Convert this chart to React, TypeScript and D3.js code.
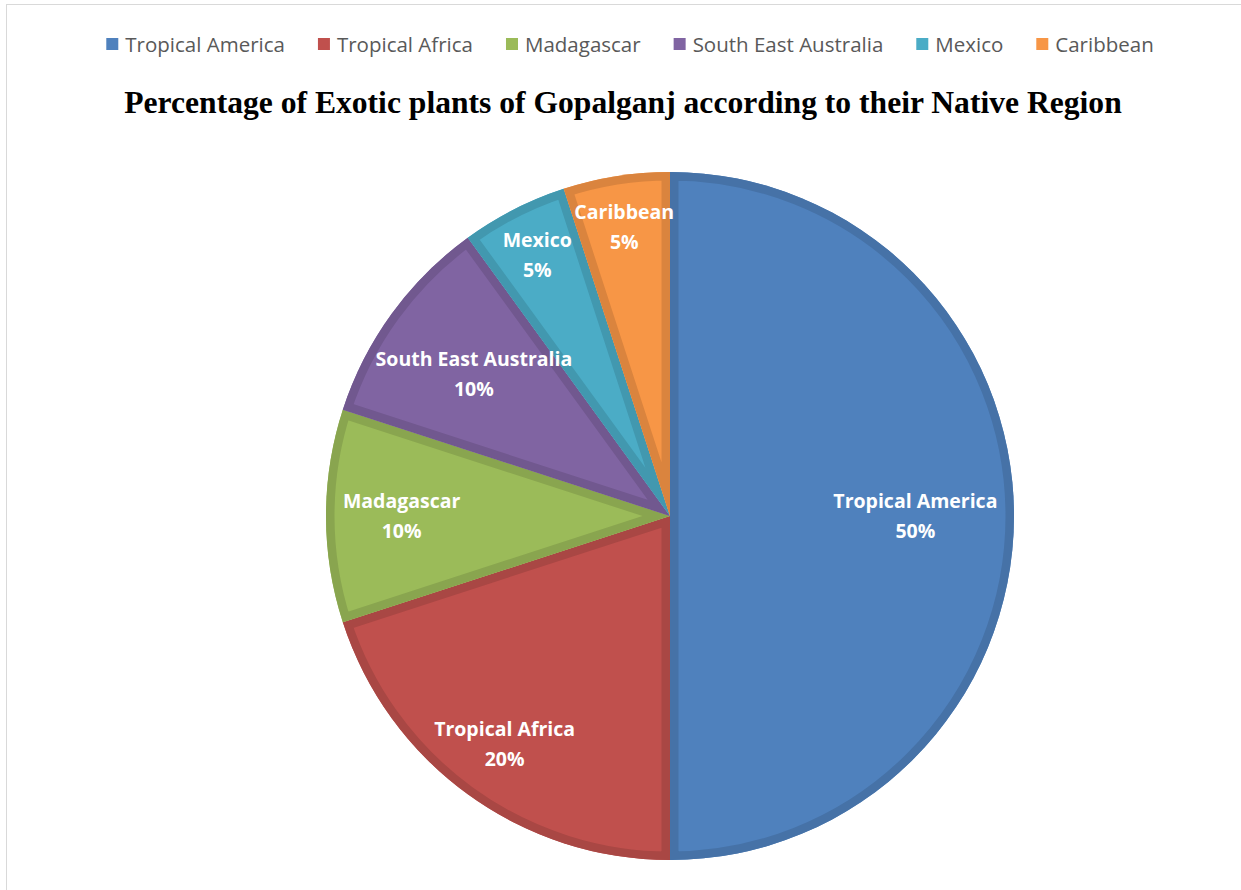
import React from 'react';
import * as d3 from 'd3';

const categories = ['Tropical America', 'Tropical Africa', 'Madagascar', 'South East Australia', 'Mexico', 'Caribbean'];
const values = [50, 20, 10, 10, 5, 5];
const colors = ['#4F81BD', '#C0504D', '#9BBB59', '#8064A2', '#4BACC6', '#F79646'];
const title = 'Percentage of Exotic plants of Gopalganj according to their Native Region';

const W = 1241;
const H = 890;
const LABEL_SIZE = 19.5;
const LEGEND_SIZE = 20.5;
const LABEL_FONT = `bold ${LABEL_SIZE}px "Open Sans"`;
const LEGEND_FONT = `${LEGEND_SIZE}px "Open Sans"`;

function measure(text: string, font: string): number {
  const c = document.createElement('canvas');
  const ctx = c.getContext('2d');
  if (!ctx) return text.length * 9;
  ctx.font = font;
  return ctx.measureText(text).width;
}

export default function App() {
  const cx = 670;
  const cy = 516;
  const R = 344;
  const total = d3.sum(values);
  const arcs = d3.pie<number>().sort(null).value((d) => d)(values);
  const arcGen = d3.arc<d3.PieArcDatum<number>>().innerRadius(0).outerRadius(R);

  const pad = 16;
  const labels = arcs.map((a, i) => {
    const mid = (a.startAngle + a.endAngle) / 2;
    const w = Math.max(measure(categories[i], LABEL_FONT), measure(`${Math.round((values[i] / total) * 100)}%`, LABEL_FONT));
    let r = 0.85 * R;
    for (; r > 0; r -= 1) {
      const x = Math.sin(mid) * r;
      const y = -Math.cos(mid) * r;
      const lim2 = (R - pad) * (R - pad) - y * y;
      if (lim2 <= 0) continue;
      const lim = Math.sqrt(lim2);
      if (x - w / 2 >= -lim && x + w / 2 <= lim) break;
    }
    return { x: Math.sin(mid) * r, y: -Math.cos(mid) * r };
  });

  // legend layout
  const sq = 12;
  const gapText = 7;
  const gapItem = 33;
  const legendWidths = categories.map((c) => measure(c, LEGEND_FONT));
  const totalLegend = d3.sum(legendWidths.map((w) => sq + gapText + w)) + gapItem * (categories.length - 1);
  let lx = 630 - totalLegend / 2;
  const legendItems = categories.map((c, i) => {
    const item = { x: lx, label: c, color: colors[i] };
    lx += sq + gapText + legendWidths[i] + gapItem;
    return item;
  });

  return (
    <svg width={W} height={H} style={{ position: 'absolute', left: 0, top: 0, background: '#fff' }}>
      <rect x={6.5} y={4.5} width={W + 10} height={H + 10} fill="#fff" stroke="#d9d9d9" strokeWidth={1} />
      <g>
        {legendItems.map((it, i) => (
          <g key={i}>
            <rect x={it.x} y={38} width={sq} height={sq} fill={it.color} />
            <text x={it.x + sq + gapText} y={51.5} fontFamily='"Open Sans"' fontSize={LEGEND_SIZE} fill="#595959">
              {it.label}
            </text>
          </g>
        ))}
      </g>
      <text x={623} y={113} textAnchor="middle" fontFamily='"Liberation Serif", "Times New Roman", serif' fontWeight="bold" fontSize={31.6} fill="#000">
        {title}
      </text>
      <defs>
        {arcs.map((a, i) => (
          <clipPath id={`clip${i}`} key={i}>
            <path d={arcGen(a) || ''} />
          </clipPath>
        ))}
      </defs>
      <g transform={`translate(${cx},${cy})`}>
        {arcs.map((a, i) => {
          const dark = d3.color(colors[i])!.darker(0.35).formatHex();
          return (
            <g key={i}>
              <path d={arcGen(a) || ''} fill={colors[i]} />
              <path d={arcGen(a) || ''} fill="none" stroke={dark} strokeWidth={17} clipPath={`url(#clip${i})`} />
            </g>
          );
        })}
        {arcs.map((a, i) => (
          <text key={`l${i}`} x={labels[i].x} textAnchor="middle" fontFamily='"Open Sans"' fontWeight="bold" fontSize={LABEL_SIZE} fill="#fff">
            <tspan x={labels[i].x} y={labels[i].y - 8}>{categories[i]}</tspan>
            <tspan x={labels[i].x} y={labels[i].y + 22}>{`${Math.round((values[i] / total) * 100)}%`}</tspan>
          </text>
        ))}
      </g>
    </svg>
  );
}
